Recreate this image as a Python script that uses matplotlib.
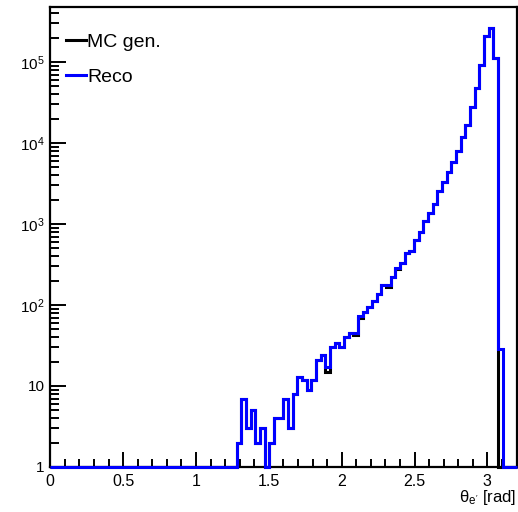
import numpy as np
import matplotlib
matplotlib.use("Agg")
import matplotlib.pyplot as plt
from matplotlib.lines import Line2D
from matplotlib.ticker import FixedLocator, LogLocator, MultipleLocator, NullFormatter

plt.rcParams['font.family'] = ['Liberation Sans', 'DejaVu Sans']
plt.rcParams['mathtext.fontset'] = 'custom'
plt.rcParams['mathtext.rm'] = 'Liberation Sans'
plt.rcParams['mathtext.it'] = 'Liberation Sans'
plt.rcParams['mathtext.bf'] = 'Liberation Sans:bold'

# ---- data (histogram: 100 bins from 0 to 3.2 rad) ----
n_bins = 100
x_min, x_max = 0.0, 3.2

reco = [0, 0, 0, 0, 0, 0, 0, 0, 0, 0,
        0, 0, 0, 0, 0, 0, 0, 0, 0, 0,
        0, 0, 0, 0, 0, 0, 0, 0, 0, 0,
        0, 0, 0, 0, 0, 0, 0, 0, 0, 0,
        2, 7, 3, 5, 2, 3, 0, 2, 4, 4,
        7, 3, 8, 13, 12, 9, 12, 21, 24, 17,
        30, 34, 30, 40, 45, 45, 73, 81, 94, 112,
        137, 174, 174, 220, 290, 333, 441, 467, 629, 785,
        1100, 1355, 1780, 2580, 3330, 4420, 5780, 8040, 11900, 16900,
        27600, 47300, 91800, 209000, 261000, 111000, 29, 0, 0, 0]

mc_gen = [0, 0, 0, 0, 0, 0, 0, 0, 0, 0,
          0, 0, 0, 0, 0, 0, 0, 0, 0, 0,
          0, 0, 0, 0, 0, 0, 0, 0, 0, 0,
          0, 0, 0, 0, 0, 0, 0, 0, 0, 0,
          2, 7, 3, 5, 2, 3, 0, 2, 4, 4,
          7, 3, 8, 13, 12, 9, 12, 21, 24, 15,
          30, 34, 30, 40, 45, 43, 70, 81, 94, 112,
          137, 174, 166, 220, 282, 333, 441, 467, 629, 785,
          1100, 1355, 1780, 2580, 3330, 4420, 5780, 8040, 11900, 16900,
          27600, 47300, 91800, 209000, 261000, 111000, 0, 0, 0, 0]

legend_labels = ["MC gen.", "Reco"]
x_ticks = [0, 0.5, 1, 1.5, 2, 2.5, 3]
x_tick_labels = ["0", "0.5", "1", "1.5", "2", "2.5", "3"]
y_ticks = [1, 10, 1e2, 1e3, 1e4, 1e5]
y_tick_labels = ["1", "10", r"$10^{2}$", r"$10^{3}$", r"$10^{4}$", r"$10^{5}$"]
x_label = "θ$_{e'}$ [rad]"

# ---- figure ----
W, H = 518, 512
fig = plt.figure(figsize=(W / 100, H / 100), dpi=100)
ax_l, ax_r, ax_t, ax_b = 50.3, 516.5, 7, 467
ax = fig.add_axes([ax_l / W, 1 - ax_b / H, (ax_r - ax_l) / W, (ax_b - ax_t) / H])

edges = np.linspace(x_min, x_max, n_bins + 1)
y_floor = 1
ax.set_yscale('log')
ax.set_xlim(x_min, x_max)
ax.set_ylim(y_floor, 4.77e5)

ax.stairs(np.maximum(mc_gen, y_floor), edges, color='black', lw=2.2,
          baseline=None, clip_on=False, zorder=3)
ax.stairs(np.maximum(reco, y_floor), edges, color='#0000ff', lw=2.2,
          baseline=None, clip_on=False, zorder=3.1)

for s in ax.spines.values():
    s.set_linewidth(1.6)

ax.xaxis.set_major_locator(FixedLocator(x_ticks))
ax.set_xticklabels(x_tick_labels)
ax.xaxis.set_minor_locator(MultipleLocator(0.1))
ax.set_yticks(y_ticks)
ax.set_yticklabels(y_tick_labels)
ax.yaxis.set_minor_locator(LogLocator(base=10, subs=range(2, 10), numticks=20))
ax.yaxis.set_minor_formatter(NullFormatter())

ax.tick_params(axis='x', which='major', direction='in', length=10.5, width=1.4,
               top=False, labelsize=11.5, pad=5)
ax.tick_params(axis='x', which='minor', direction='in', length=5.8, width=1.4, top=False)
ax.tick_params(axis='y', which='major', direction='in', length=11.3, width=1.4,
               right=False, labelsize=11, pad=4)
ax.tick_params(axis='y', which='minor', direction='in', length=6.3, width=1.4, right=False)

ax.set_xlabel(x_label, fontsize=12, loc='right')
ax.xaxis.set_label_coords(1.0, -0.045)

handles = [Line2D([], [], color='black', lw=2.2), Line2D([], [], color='#0000ff', lw=2.2)]
ax.legend(handles, legend_labels, loc='upper left',
          bbox_to_anchor=((66 - ax_l) / (ax_r - ax_l), 0.943),
          frameon=False, fontsize=14, handlelength=1.03, handletextpad=0.05,
          borderpad=0, borderaxespad=0, labelspacing=0.9)

fig.savefig("out.png", dpi=100)
